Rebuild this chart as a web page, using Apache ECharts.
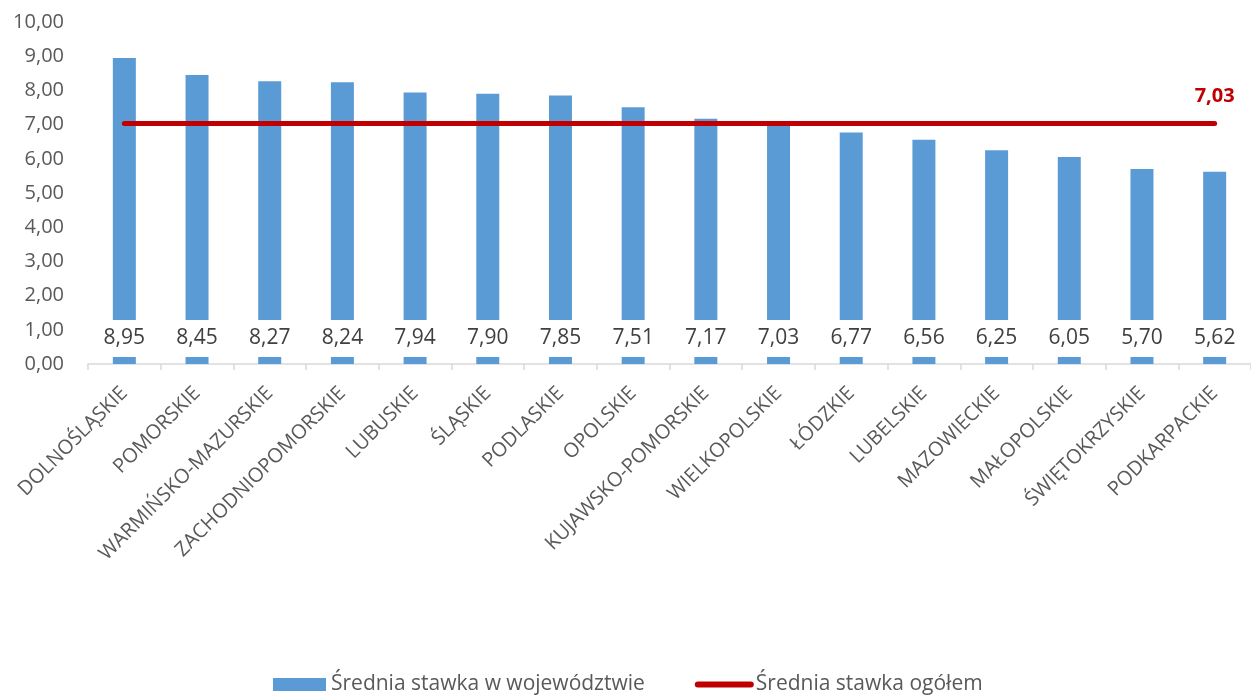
<!DOCTYPE html>
<html>
<head>
<meta charset="utf-8">
<script src="https://cdn.jsdelivr.net/npm/echarts@6/dist/echarts.min.js"></script>
<style>
  html, body { margin: 0; padding: 0; background: #fff; }
  #chart { width: 1251px; height: 695px; }
</style>
</head>
<body>
<div id="chart"></div>
<script>
// Voivodeships, sorted by average rate
const regions = [
  'DOLNOŚLĄSKIE', 'POMORSKIE', 'WARMIŃSKO-MAZURSKIE', 'ZACHODNIOPOMORSKIE',
  'LUBUSKIE', 'ŚLĄSKIE', 'PODLASKIE', 'OPOLSKIE', 'KUJAWSKO-POMORSKIE',
  'WIELKOPOLSKIE', 'ŁÓDZKIE', 'LUBELSKIE', 'MAZOWIECKIE', 'MAŁOPOLSKIE',
  'ŚWIĘTOKRZYSKIE', 'PODKARPACKIE'
];
// Average rate in each voivodeship
const regionRates = [8.95, 8.45, 8.27, 8.24, 7.94, 7.90, 7.85, 7.51, 7.17, 7.03, 6.77, 6.56, 6.25, 6.05, 5.70, 5.62];
// Overall average rate
const overallRate = 7.03;
// Value axis range
const yMin = 0, yMax = 10, yStep = 1;

const seriesNames = ['Średnia stawka w województwie', 'Średnia stawka ogółem'];
const FONT = '"Open Sans", Lato, sans-serif';
const fmt = v => Number(v).toFixed(2).replace('.', ',');

// the overall rate is drawn as a flat line across all categories
const overallData = regions.map(() => overallRate);

const chart = echarts.init(document.getElementById('chart'));
chart.setOption({
  animation: false,
  textStyle: { fontFamily: FONT },
  grid: { left: 88, right: -1, top: 22, bottom: 331, containLabel: false },
  legend: {
    top: 669,
    left: 268,
    itemGap: 50,
    itemWidth: 53,
    itemHeight: 13,
    textStyle: { fontFamily: FONT, fontSize: 21, color: '#595959', padding: [0, 0, 0, 0] },
    data: [
      { name: seriesNames[0], icon: 'rect' },
      { name: seriesNames[1], itemStyle: { opacity: 0 }, lineStyle: { width: 6, color: '#C00000', cap: 'round' } }
    ]
  },
  xAxis: {
    type: 'category',
    data: regions,
    axisLine: { lineStyle: { color: '#D9D9D9', width: 1.5 } },
    axisTick: { show: true, length: 6, lineStyle: { color: '#D9D9D9', width: 1.5 } },
    axisLabel: {
      rotate: 45,
      interval: 0,
      margin: 26,
      fontFamily: FONT,
      fontSize: 20,
      color: '#595959'
    }
  },
  yAxis: {
    type: 'value',
    min: yMin,
    max: yMax,
    interval: yStep,
    splitLine: { show: false },
    axisLine: { show: false },
    axisTick: { show: false },
    axisLabel: {
      formatter: fmt,
      fontFamily: FONT,
      fontSize: 20,
      color: '#595959',
      margin: 24
    }
  },
  series: [
    {
      name: seriesNames[0],
      type: 'bar',
      data: regionRates,
      barWidth: 23,
      itemStyle: { color: '#5B9BD5' },
      label: {
        show: true,
        position: 'insideBottom',
        distance: 7,
        formatter: p => fmt(p.value),
        fontFamily: FONT,
        fontSize: 21,
        color: '#404040',
        backgroundColor: '#FFFFFF',
        padding: [8, 3, 8, 3]
      },
      z: 2
    },
    {
      name: seriesNames[1],
      type: 'line',
      data: overallData,
      symbol: 'none',
      lineStyle: { color: '#C00000', width: 5, cap: 'round' },
      itemStyle: { color: '#C00000' },
      markPoint: {
        symbol: 'circle',
        symbolSize: 0,
        itemStyle: { color: 'transparent' },
        label: {
          show: true,
          position: 'top',
          distance: 17,
          formatter: p => fmt(p.value),
          fontFamily: FONT,
          fontSize: 20,
          fontWeight: 'bold',
          color: '#C00000'
        },
        data: [{ coord: [regions.length - 1, overallRate], value: overallRate }]
      },
      z: 3
    }
  ]
});
</script>
</body>
</html>
